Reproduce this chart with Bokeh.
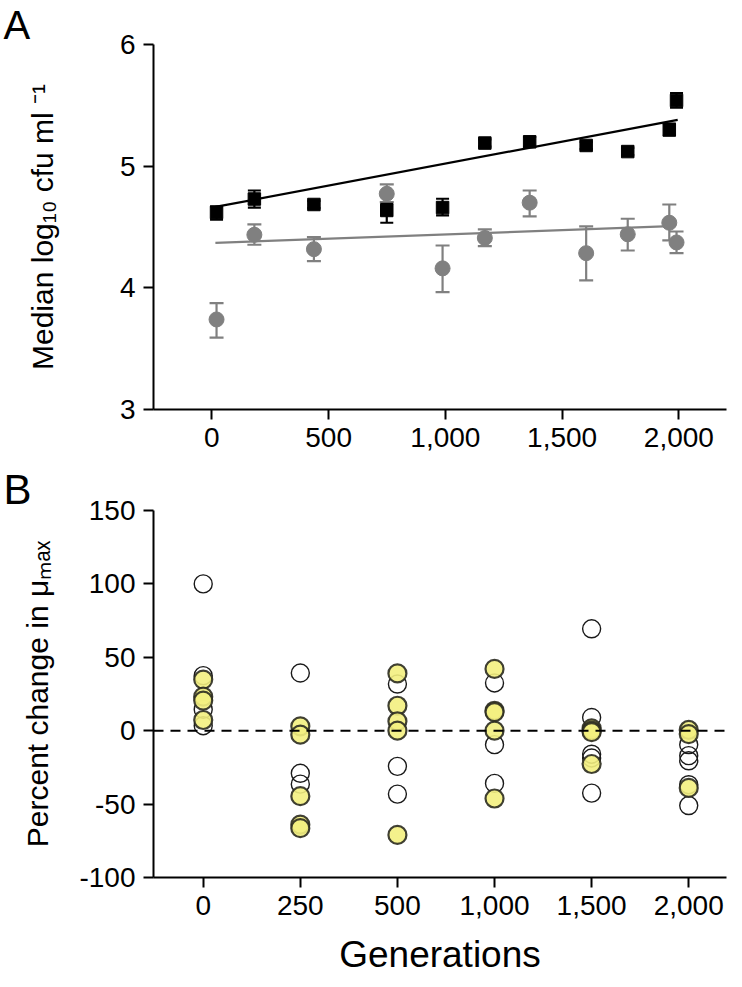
from bokeh.plotting import figure
from bokeh.layouts import column
from bokeh.models import (Range1d, FixedTicker, NumeralTickFormatter, Whisker,
                          TeeHead, ColumnDataSource, Span, Title)
from bokeh.embed import file_html
from bokeh.resources import INLINE

FONT = "Liberation Sans"

# ---------------- Panel A data ----------------
generations_a = [20, 182, 437, 749, 988, 1169, 1361, 1603, 1781, 1959, 1990]
cfu_black = [4.62, 4.73, 4.685, 4.636, 4.66, 5.19, 5.20, 5.17, 5.12, 5.30, 5.54]
cfu_black_lo = [4.56, 4.66, 4.655, 4.535, 4.595, 5.16, 5.16, 5.14, 5.09, 5.25, 5.48]
cfu_black_hi = [4.67, 4.80, 4.715, 4.69, 4.732, 5.22, 5.24, 5.20, 5.15, 5.35, 5.60]
cfu_grey = [3.74, 4.436, 4.318, 4.773, 4.16, 4.41, 4.70, 4.285, 4.44, 4.535, 4.373]
cfu_grey_lo = [3.59, 4.354, 4.219, 4.704, 3.965, 4.343, 4.587, 4.061, 4.307, 4.39, 4.285]
cfu_grey_hi = [3.874, 4.521, 4.417, 4.85, 4.348, 4.48, 4.80, 4.505, 4.568, 4.685, 4.463]
fit_black_x = [15, 1995]
fit_black_y = [4.665, 5.38]
fit_grey_x = [15, 1965]
fit_grey_y = [4.37, 4.507]
ticks_a_x = [0, 500, 1000, 1500, 2000]
ticks_a_y = [3, 4, 5, 6]

# ---------------- Panel B data ----------------
gen_labels = ["0", "250", "500", "1,000", "1,500", "2,000"]
open_pct = [
    [100, 37.5, 14.5, 3.4],
    [39.3, -29, -36.4],
    [31.8, -24.3, -43.2],
    [32.5, -9.5, -35.9],
    [69.4, 9, -16, -18.6, -42.5],
    [-9.5, -17, -20.5, -36.8, -51],
]
filled_pct = [
    [34.8, 23.2, 20.5, 7.3],
    [3, -2.7, -44.6, -64, -66.4],
    [39, 17, 6.4, 0, -71],
    [42.1, 13.6, 12.7, 0, -46.2],
    [1.6, 0, -1, -22.7],
    [0.5, -2.3, -39],
]
ticks_b_y = [-100, -50, 0, 50, 100, 150]
ticks_b_y_labels = ["-100", "-50", "0", "50", "100", "150"]

GREY = "#808080"


def style(p):
    p.grid.visible = False
    p.outline_line_color = None
    p.background_fill_color = "white"
    p.border_fill_color = "white"
    for ax in p.axis:
        ax.axis_line_width = 2
        ax.axis_line_color = "black"
        ax.major_tick_line_width = 2
        ax.major_tick_line_color = "black"
        ax.major_tick_out = 10
        ax.major_tick_in = 0
        ax.minor_tick_line_color = None
        ax.major_label_text_font = FONT
        ax.major_label_text_font_size = "28px"
        ax.major_label_text_color = "black"
        ax.major_label_standoff = 8
        ax.axis_label_text_font = FONT
        ax.axis_label_text_font_style = "normal"
        ax.axis_label_text_color = "black"


# ---------------- Panel A ----------------
pA = figure(width=734, height=461, output_backend="svg", toolbar_location=None,
            x_range=Range1d(-250, 2204), y_range=Range1d(3, 6),
            min_border_left=153, min_border_right=8, min_border_top=44,
            min_border_bottom=52)
style(pA)
pA.add_layout(Title(text="A", text_font=FONT, text_font_size="40px",
                    text_font_style="normal", text_color="black", align="left",
                    offset=-150, standoff=-4, vertical_align="bottom"), "above")
pA.xaxis.ticker = FixedTicker(ticks=ticks_a_x)
pA.xaxis.formatter = NumeralTickFormatter(format="0,0")
pA.yaxis.ticker = FixedTicker(ticks=ticks_a_y)
pA.yaxis.axis_label = "Median log\u2081\u2080 cfu ml \u207b\u00b9"
pA.yaxis.axis_label_text_font_size = "30px"
pA.yaxis.axis_label_standoff = 58

srcA = ColumnDataSource(dict(x=generations_a, yb=cfu_black, bl=cfu_black_lo,
                             bh=cfu_black_hi, yg=cfu_grey, gl=cfu_grey_lo,
                             gh=cfu_grey_hi))

pA.line(fit_grey_x, fit_grey_y, line_color=GREY, line_width=2.2)
pA.line(fit_black_x, fit_black_y, line_color="black", line_width=2.2)

wg = Whisker(source=srcA, base="x", lower="gl", upper="gh", dimension="height",
             line_color=GREY, line_width=2.2,
             lower_head=TeeHead(size=14, line_color=GREY, line_width=2.2),
             upper_head=TeeHead(size=14, line_color=GREY, line_width=2.2))
wb = Whisker(source=srcA, base="x", lower="bl", upper="bh", dimension="height",
             line_color="black", line_width=2.2,
             lower_head=TeeHead(size=13, line_color="black", line_width=2.2),
             upper_head=TeeHead(size=13, line_color="black", line_width=2.2))
pA.add_layout(wg)
pA.add_layout(wb)

pA.scatter("x", "yg", source=srcA, marker="circle", size=15, fill_color=GREY,
           line_color=GREY)
pA.scatter("x", "yb", source=srcA, marker="square", size=12.5, fill_color="black",
           line_color="black")

# ---------------- Panel B ----------------
pB = figure(width=734, height=526, output_backend="svg", toolbar_location=None,
            x_range=Range1d(-0.512, 5.389), y_range=Range1d(-100, 150),
            min_border_left=153, min_border_right=8, min_border_top=49,
            min_border_bottom=110)
style(pB)
pB.add_layout(Title(text="B", text_font=FONT, text_font_size="42px",
                    text_font_style="normal", text_color="black", align="left",
                    offset=-150, standoff=-4, vertical_align="bottom"), "above")
pB.xaxis.ticker = FixedTicker(ticks=list(range(len(gen_labels))))
pB.xaxis.major_label_overrides = {i: lab for i, lab in enumerate(gen_labels)}
pB.yaxis.ticker = FixedTicker(ticks=ticks_b_y)
pB.yaxis.major_label_overrides = {t: lab for t, lab in zip(ticks_b_y, ticks_b_y_labels)}
pB.yaxis.axis_label = "Percent change in \u03bc\u2098\u2090\u2093"
pB.yaxis.axis_label_text_font_size = "30px"
pB.yaxis.axis_label_standoff = 22
pB.xaxis.axis_label = "Generations"
pB.xaxis.axis_label_text_font_size = "37px"
pB.xaxis.axis_label_standoff = 16

ox, oy, fx, fy = [], [], [], []
for i, vals in enumerate(open_pct):
    for v in vals:
        ox.append(i)
        oy.append(v)
for i, vals in enumerate(filled_pct):
    for v in vals:
        fx.append(i)
        fy.append(v)

pB.scatter(ox, oy, marker="circle", size=18, fill_color=None,
           line_color="#1a1a1a", line_width=1.4)
pB.scatter(fx, fy, marker="circle", size=18, fill_color="#f3ef80",
           fill_alpha=0.9, line_color="#2b2b20", line_width=2.2, line_alpha=0.9)

pB.add_layout(Span(location=0, dimension="width", line_color="black",
                   line_width=2, line_dash="10 7"))

layout = column(pA, pB, spacing=0)
open("out.html", "w").write(file_html(layout, INLINE))
